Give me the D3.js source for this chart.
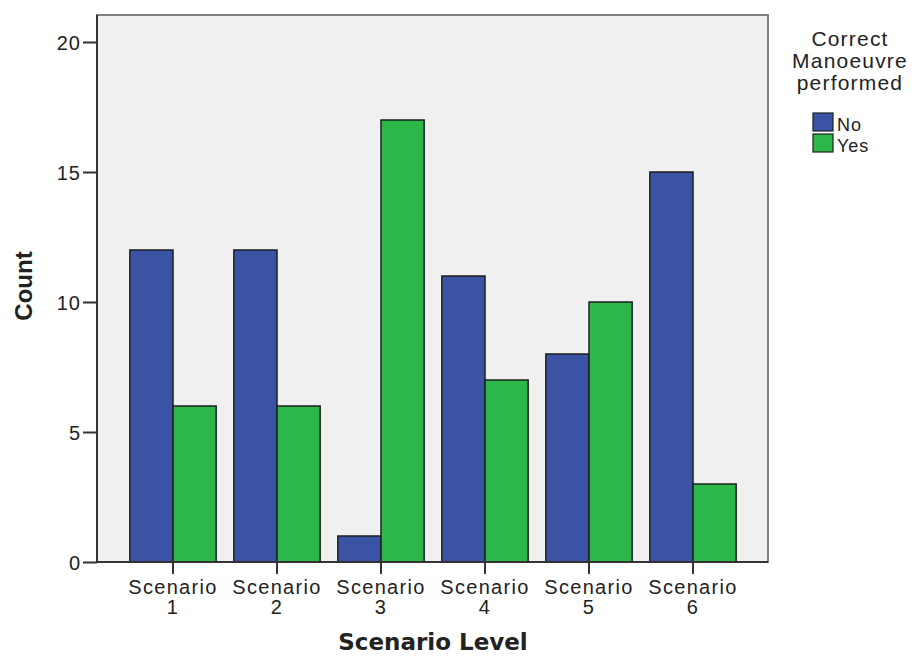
<!DOCTYPE html>
<html>
<head>
<meta charset="utf-8">
<script src="https://cdn.jsdelivr.net/npm/d3@7"></script>
<style>
  body { margin: 0; background: #fff; }
  text { font-family: "Liberation Sans", Arial, sans-serif; fill: #222; }
</style>
</head>
<body>
<svg id="chart" width="914" height="658"></svg>
<script>
// chart data
var scenarios = ["Scenario 1", "Scenario 2", "Scenario 3", "Scenario 4", "Scenario 5", "Scenario 6"];
var seriesNames = ["No", "Yes"];
var noCounts  = [12, 12, 1, 11, 8, 15];
var yesCounts = [6, 6, 17, 7, 10, 3];
var yTicks = [0, 5, 10, 15, 20];
var colors = ["#3a53a4", "#2db84b"];

var rows = scenarios.map((s, i) => ({ scenario: s, values: [noCounts[i], yesCounts[i]] }));

var svg = d3.select("#chart");
var plot = { left: 97, top: 15, right: 768, bottom: 562 };

var y = d3.scaleLinear().domain([0, 20]).range([plot.bottom, 42]);

var x0 = d3.scaleBand()
  .domain(scenarios)
  .range([plot.left + 24, plot.right - 23])
  .paddingInner(0.17)
  .paddingOuter(0.085);

var x1 = d3.scaleBand().domain(seriesNames).range([0, x0.bandwidth()]);

// plot background + frame
svg.append("rect")
  .attr("x", plot.left).attr("y", plot.top)
  .attr("width", plot.right - plot.left).attr("height", plot.bottom - plot.top)
  .style("fill", "#f0f0f0")
  .style("stroke", "#808080")
  .style("stroke-width", 2);

// bars
var groups = svg.append("g").selectAll("g")
  .data(rows)
  .enter().append("g")
  .attr("transform", d => `translate(${x0(d.scenario)},0)`);

groups.selectAll("rect")
  .data(d => d.values.map((v, i) => ({ key: seriesNames[i], value: v, idx: i })))
  .enter().append("rect")
  .attr("x", d => x1(d.key))
  .attr("y", d => y(d.value))
  .attr("width", x1.bandwidth())
  .attr("height", d => y(0) - y(d.value))
  .style("fill", d => colors[d.idx])
  .style("stroke", "#1e1e1e")
  .style("stroke-width", 1.5);

// y axis
var yAxis = svg.append("g")
  .attr("transform", `translate(${plot.left},0)`)
  .call(d3.axisLeft(y).tickValues(yTicks).tickSize(14).tickPadding(2));
yAxis.select(".domain").attr("d", `M0,${plot.top}V${plot.bottom}`).style("stroke", "#333").style("stroke-width", 2);
yAxis.selectAll(".tick line").style("stroke", "#333").style("stroke-width", 2);
yAxis.selectAll(".tick text")
  .attr("dy", "0.36em")
  .style("font-size", "20px")
  .style("letter-spacing", "1px")
  .style("font-family", "'Liberation Sans', Arial, sans-serif")
  .style("fill", "#222");

// x axis
var xAxis = svg.append("g")
  .attr("transform", `translate(0,${plot.bottom})`)
  .call(d3.axisBottom(x0).tickSize(12).tickFormat(""));
xAxis.select(".domain").attr("d", `M${plot.left},0H${plot.right}`).style("stroke", "#333").style("stroke-width", 2);
xAxis.selectAll(".tick line").style("stroke", "#333").style("stroke-width", 2);
xAxis.selectAll(".tick").each(function(d) {
  var parts = d.split(" ");
  var t = d3.select(this).append("text")
    .attr("text-anchor", "middle")
    .style("font-size", "20px")
    .style("letter-spacing", "1.3px")
    .style("fill", "#222");
  t.append("tspan").attr("x", 0).attr("y", 32).text(parts[0]);
  t.append("tspan").attr("x", 0).attr("y", 52).text(parts[1]);
});

// axis titles
svg.append("text")
  .attr("transform", "translate(32,286) rotate(-90)")
  .attr("text-anchor", "middle")
  .style("font-family", "'Liberation Sans Narrow', 'Arial Narrow', sans-serif")
  .style("font-weight", "bold")
  .style("font-size", "24px")
  .text("Count");

svg.append("text")
  .attr("x", 433)
  .attr("y", 650)
  .attr("text-anchor", "middle")
  .style("font-family", "'DejaVu Sans', Verdana, sans-serif")
  .style("font-weight", "bold")
  .style("font-size", "23px")
  .text("Scenario Level");

// legend
var legendTitle = ["Correct", "Manoeuvre", "performed"];
svg.append("g").selectAll("text")
  .data(legendTitle)
  .enter().append("text")
  .attr("x", 850)
  .attr("y", (d, i) => 46 + i * 22)
  .attr("text-anchor", "middle")
  .style("font-size", "21px")
  .style("letter-spacing", "1.2px")
  .text(d => d);

var legend = svg.append("g").selectAll("g")
  .data(seriesNames)
  .enter().append("g")
  .attr("transform", (d, i) => `translate(813,${113 + i * 21})`);
legend.append("rect")
  .attr("width", 20).attr("height", 18)
  .style("fill", (d, i) => colors[i])
  .style("stroke", "#1e1e1e")
  .style("stroke-width", 1.2);
legend.append("text")
  .attr("x", 24).attr("y", 18)
  .style("font-size", "18px")
  .style("letter-spacing", "1px")
  .text(d => d);
</script>
</body>
</html>
